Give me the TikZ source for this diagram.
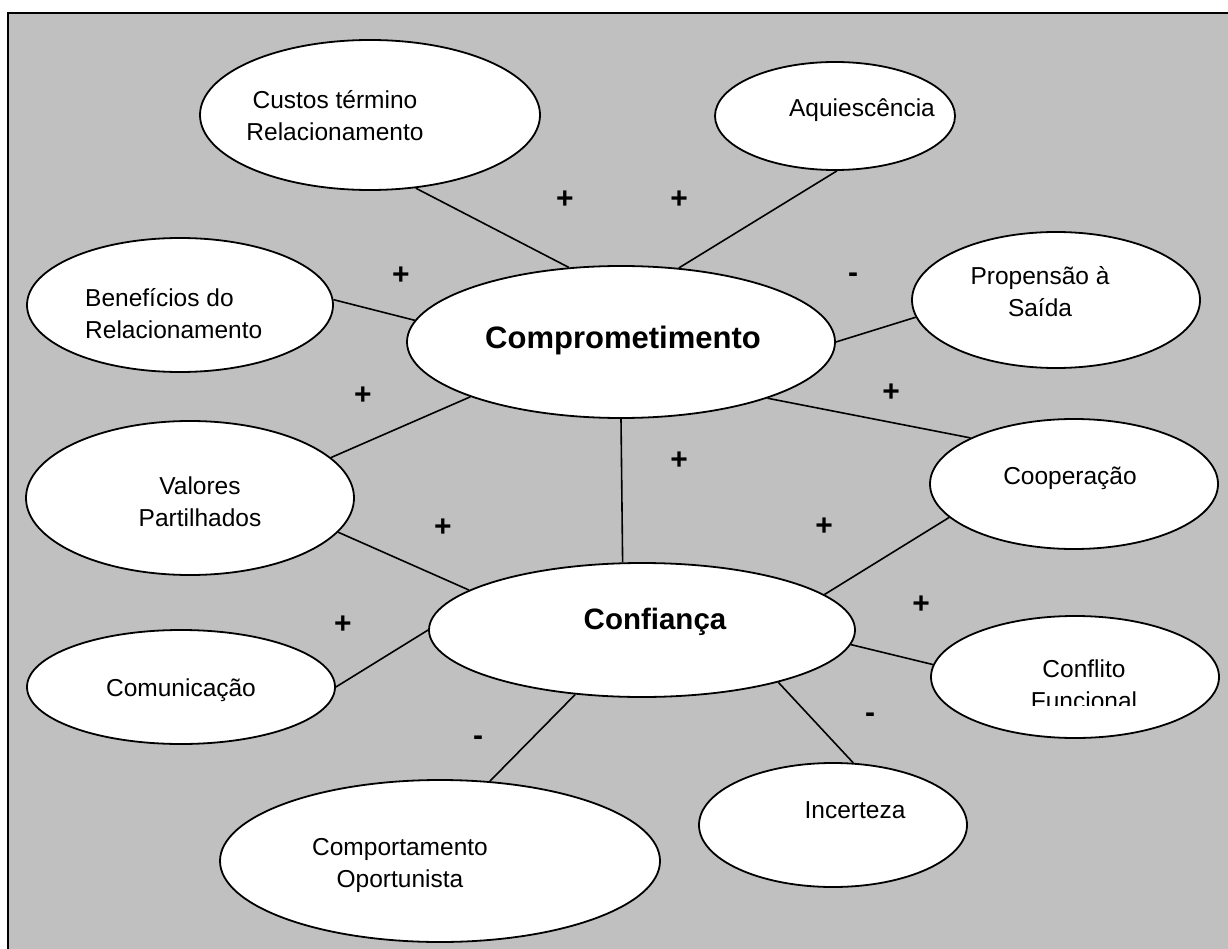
\documentclass[tikz,border=0pt]{standalone}
\usepackage{fontspec}
\setmainfont{Liberation Sans}
\usetikzlibrary{shapes.geometric}
\definecolor{panelgray}{HTML}{C0C0C0}
\begin{document}
\begin{tikzpicture}[x=1pt,y=-1pt,
  bubble/.style={ellipse, draw=black, line width=1.8pt, fill=white, inner sep=0pt},
  link/.style={draw=black, line width=1.6pt},
  lbl/.style={font=\fontsize{24.5}{32}\selectfont, align=center, inner sep=0pt},
  core/.style={font=\fontsize{31}{36}\bfseries\selectfont, inner sep=0pt},
  sign/.style={font=\fontsize{30}{32}\bfseries\selectfont, inner sep=0pt}]
\useasboundingbox (0,0) rectangle (1228,949);
% panel
\fill[panelgray] (8,13) rectangle (1228,949);
\draw[line width=2pt] (8,949) -- (8,13) -- (1228,13);

% bubbles
\node[bubble, minimum width=340, minimum height=150] (custos) at (370,115) {};
\node[bubble, minimum width=240, minimum height=108] (aqui) at (835,116) {};
\node[bubble, minimum width=306, minimum height=134] (benef) at (180,305) {};
\node[bubble, minimum width=288, minimum height=136] (prop) at (1056,300) {};
\node[bubble, minimum width=428, minimum height=152] (comp) at (621,342) {};
\node[bubble, minimum width=328, minimum height=154] (valores) at (190,498) {};
\node[bubble, minimum width=288, minimum height=130] (coop) at (1074,484) {};
\node[bubble, minimum width=426, minimum height=134] (conf) at (642,630) {};
\node[bubble, minimum width=308, minimum height=114] (comun) at (181,687) {};
\node[bubble, minimum width=288, minimum height=122] (confl) at (1075,677) {};
\node[bubble, minimum width=440, minimum height=162] (comport) at (440,861) {};
\node[bubble, minimum width=268, minimum height=124] (incert) at (833,825) {};

% connectors
\draw[link] (custos.-58) -- (comp.125.5);
\draw[link] (aqui.-88) -- (comp.52);
\draw[link] (benef.2) -- (comp.174.5);
\draw[link] (prop.187.5) -- (comp.0);
\draw[link] (comp.-21.8) -- (coop.156);
\draw[link] (valores.16) -- (comp.-160);
\draw[link] (comp.-90) -- (conf.106);
\draw[link] (valores.-13.6) -- (conf.167);
\draw[link] (conf.11) -- (coop.195.6);
\draw[link] (comun.0) -- (conf.180.5);
\draw[link] (conf.-4.9) -- (confl.175);
\draw[link] (conf.-136.5) -- (comport.58.7);
\draw[link] (conf.-21) -- (incert.72);

% texts
\node[lbl] (tcustos) at (335,116) {Custos término\\Relacionamento};
\node[lbl] (taqui) at (862,110) {Aquiescência};
\node[lbl, align=left, anchor=west] (tbenef) at (85,314) {Benefícios do\\Relacionamento};
\node[lbl] (tprop) at (1040,292) {Propensão à\\Saída};
\node[core] (tcomp) at (623,340) {Comprometimento};
\node[lbl] (tvalores) at (200,502) {Valores\\Partilhados};
\node[lbl] (tcoop) at (1070,478) {Cooperação};
\node[core, font=\fontsize{29.5}{34}\bfseries\selectfont] (tconf) at (655,622) {Confiança};
\node[lbl] (tcomun) at (181,690) {Comunicação};
\begin{scope}
  \clip (930,600) rectangle (1220,705);
  \node[lbl] (tconfl) at (1084,685) {Conflito\\Funcional};
\end{scope}
\node[lbl] (tcomport) at (400,865) {Comportamento\\Oportunista};
\node[lbl] (tincert) at (855,810) {Incerteza};

% signs
\node[sign] (s1) at (565,200) {+};
\node[sign] (s2) at (679,200) {+};
\node[sign] (s3) at (401,276) {+};
\node[sign] (s4) at (853,278) {-};
\node[sign] (s5) at (363,396) {+};
\node[sign] (s6) at (891,393) {+};
\node[sign] (s7) at (679,461) {+};
\node[sign] (s8) at (443,528) {+};
\node[sign] (s9) at (824,527) {+};
\node[sign] (s10) at (921,605) {+};
\node[sign] (s11) at (343,625) {+};
\node[sign] (s12) at (870,718) {-};
\node[sign] (s13) at (478,741) {-};
\end{tikzpicture}
\end{document}
